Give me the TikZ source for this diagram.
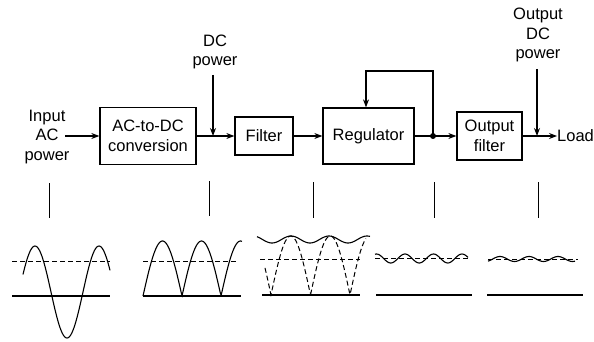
\documentclass[tikz,border=0pt]{standalone}
\usepackage{fontspec}
\setmainfont{Liberation Sans}
\usetikzlibrary{arrows.meta}
\begin{document}
\begin{tikzpicture}[x=1pt,y=-1pt,
  blk/.style={draw,line width=1.3pt,align=center,inner sep=0pt,font=\fontsize{16.5}{19.5}\selectfont},
  lbl/.style={align=center,inner sep=0pt,font=\fontsize{16.5}{19.5}\selectfont},
  flow/.style={line width=1.1pt,-{Stealth[length=8pt,width=6pt]}},
  wire/.style={line width=1.1pt},
  tickln/.style={line width=1pt},
  wave/.style={line width=1.1pt},
  dsh/.style={line width=1pt,dash pattern=on 5pt off 3pt}]
\useasboundingbox (0,0) rectangle (594,342);
% blocks
\node[blk,minimum width=96pt,minimum height=57pt] (acdc) at (148,136) {AC-to-DC\\conversion};
\node[blk,minimum width=58pt,minimum height=38pt] (filter) at (264,136) {Filter};
\node[blk,minimum width=91pt,minimum height=56pt] (reg) at (368.5,136) {Regulator};
\node[blk,minimum width=65pt,minimum height=48pt] (ofilt) at (489.5,136) {Output\\filter};
% labels
\node[lbl] (in) at (47,137) {Input\\AC\\power};
\node[lbl] (dcp) at (215,52) {DC\\power};
\node[lbl] (odc) at (538,35) {Output\\DC\\power};
\node[lbl,anchor=west] (load) at (557,136) {Load};
% coordinates
\coordinate (inS) at (65,136);
\coordinate (dcS) at (213,75);
\coordinate (odcS) at (537,69);
\coordinate (dot) at (433,136);
\coordinate (fb) at (366,71);
% connectors
\draw[flow] (inS) -- (acdc.west);
\draw[flow] (acdc.east) -- (filter.west);
\draw[flow] (dcS) -- (dcS |- acdc.east);
\draw[flow] (filter.east) -- (reg.west);
\draw[wire] (reg.east) -- (dot);
\draw[flow] (dot) -- (ofilt.west);
\draw[flow] (dot) |- (fb) -- (fb |- reg.north);
\fill (dot) circle (3pt);
\draw[flow] (ofilt.east) -- (load.west);
\draw[flow] (odcS) -- (odcS |- ofilt.east);
% ticks
\draw[tickln] (49,183) -- (49,218);
\draw[tickln] (209,181) -- (209,216);
\draw[tickln] (313,182) -- (313,218);
\draw[tickln] (434,182) -- (434,218);
\draw[tickln] (538,182) -- (538,218);
% wave 1: AC input
\draw[wave] (12,296) -- (110,296);
\draw[dsh] (12,261) -- (110,261);
\draw[wave] plot[domain=23:110,samples=90,smooth] (\x,{292-46*cos(5.625*(\x-35))});
% wave 2: rectified
\draw[wave] (143,296) -- (241,296);
\draw[dsh] (143,261) -- (238,261);
\draw[wave] plot[domain=143:242,samples=120] (\x,{296-55*abs(sin(4.615385*(\x-143)))});
% wave 3: filtered
\draw[wave] (262,295) -- (360,295);
\draw[dsh] (260,259) -- (360,259);
\draw[dsh] plot[domain=265:366,samples=120] (\x,{295-59*abs(sin(4.556962*(\x-271)))});
\draw[wave] plot[domain=257:370,samples=90,smooth] (\x,{239.5-3.5*cos(9.473684*(\x-291))});
% wave 4: regulated
\draw[wave] (376,295) -- (472,295);
\draw[dsh] (375,258) -- (468,258);
\draw[wave] plot[domain=375:468,samples=80,smooth] (\x,{258.5-4.5*cos(12.631579*(\x-405))});
% wave 5: output
\draw[wave] (487,295) -- (583,295);
\draw[dsh] (488,259) -- (578,259);
\draw[wave] plot[domain=488:575,samples=80,smooth] (\x,{259-2.5*cos(12.413793*(\x-500))});
\end{tikzpicture}
\end{document}
